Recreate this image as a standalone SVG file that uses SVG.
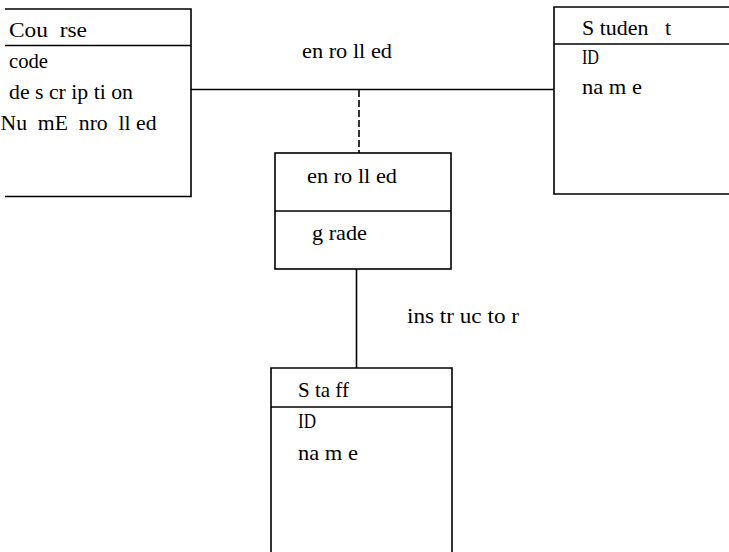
<svg xmlns="http://www.w3.org/2000/svg" width="729" height="552" viewBox="0 0 729 552">
<style>
.box{fill:none;stroke:#000;stroke-width:1.6}
.ln{fill:none;stroke:#000;stroke-width:1.6}
text{font-family:"Liberation Serif","Times New Roman",serif;font-size:22px;fill:#000}
</style>
<rect width="729" height="552" fill="#fff"/>
<g id="connectors">
<line class="ln" x1="191" y1="89.5" x2="554" y2="89.5"/>
<line class="ln" x1="359" y1="90" x2="359" y2="153" stroke-dasharray="7,3"/>
<line class="ln" x1="356.5" y1="269" x2="356.5" y2="368"/>
<text x="302" y="58" xml:space="preserve" textLength="90" lengthAdjust="spacingAndGlyphs">en ro ll ed</text>
<text x="407" y="323" xml:space="preserve" textLength="112" lengthAdjust="spacingAndGlyphs">ins tr uc to r</text>
</g>
<g id="course">
<polyline class="box" points="5,9 191,9 191,196.5 5,196.5"/>
<line class="ln" x1="5" y1="45.5" x2="191" y2="45.5"/>
<text x="9" y="37" xml:space="preserve" textLength="78" lengthAdjust="spacingAndGlyphs">Cou  rse</text>
<text x="9" y="68" textLength="39" lengthAdjust="spacingAndGlyphs">code</text>
<text x="9" y="99" xml:space="preserve" textLength="124" lengthAdjust="spacingAndGlyphs">de s cr ip ti on</text>
<text x="0.5" y="130" xml:space="preserve" textLength="156" lengthAdjust="spacingAndGlyphs">Nu  mE  nro  ll ed</text>
</g>
<g id="student">
<polyline class="box" points="731,7 554,7 554,194 731,194"/>
<line class="ln" x1="554" y1="44" x2="731" y2="44"/>
<text x="582" y="35" xml:space="preserve" textLength="89" lengthAdjust="spacingAndGlyphs">S tuden   t</text>
<text x="582" y="64" textLength="17" lengthAdjust="spacingAndGlyphs">ID</text>
<text x="582" y="94" xml:space="preserve" textLength="60" lengthAdjust="spacingAndGlyphs">na m e</text>
</g>
<g id="enrolled">
<rect class="box" x="275" y="153" width="176" height="116"/>
<line class="ln" x1="275" y1="211" x2="451" y2="211"/>
<text x="307" y="183" xml:space="preserve" textLength="90" lengthAdjust="spacingAndGlyphs">en ro ll ed</text>
<text x="312" y="240" xml:space="preserve" textLength="55" lengthAdjust="spacingAndGlyphs">g rade</text>
</g>
<g id="staff">
<polyline class="box" points="271,555 271,368 452,368 452,555"/>
<line class="ln" x1="271" y1="407" x2="452" y2="407"/>
<text x="298" y="397" xml:space="preserve" textLength="51" lengthAdjust="spacingAndGlyphs">S ta ff</text>
<text x="298" y="428" textLength="18" lengthAdjust="spacingAndGlyphs">ID</text>
<text x="298" y="460" xml:space="preserve" textLength="60" lengthAdjust="spacingAndGlyphs">na m e</text>
</g>
</svg>
